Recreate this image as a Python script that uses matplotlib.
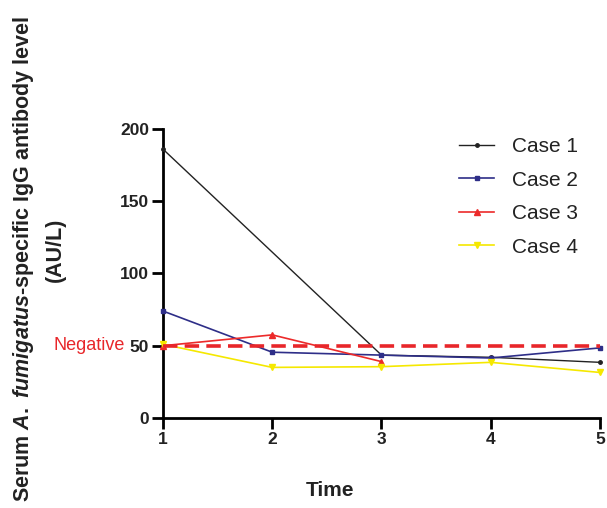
import matplotlib
matplotlib.use("Agg")
import matplotlib.pyplot as plt

plt.rcParams['font.family'] = ['Liberation Sans', 'DejaVu Sans']
plt.rcParams['mathtext.fontset'] = 'custom'
plt.rcParams['mathtext.rm'] = 'Liberation Sans:bold'
plt.rcParams['mathtext.it'] = 'Liberation Sans:bold:italic'

time = [1, 2, 3, 4, 5]
case1_time = [1, 3, 4, 5]
case1 = [186, 43.5, 42, 38.5]
case2 = [74, 45.5, 43.5, 41.5, 48.5]
case3_time = [1, 2, 3]
case3 = [50, 57.5, 39]
case4 = [51, 35, 35.5, 38.5, 31.5]
negative = 50
yticks = [0, 50, 100, 150, 200]

fig = plt.figure(figsize=(6.07, 5.08), dpi=100)
ax = fig.add_axes([0.2685, 0.1772, 0.72, 0.569])

ax.plot(case1_time, case1, color='#222222', lw=1.0, marker='o', ms=2.5, label='Case 1', clip_on=False, zorder=3)
ax.plot(time, case2, color='#2e2e88', lw=1.2, marker='s', ms=3, label='Case 2', clip_on=False, zorder=3)
ax.plot(case3_time, case3, color='#ec2a2a', lw=1.2, marker='^', ms=5, label='Case 3', clip_on=False, zorder=3)
ax.plot(time, case4, color='#f5e800', lw=1.2, marker='v', ms=5, label='Case 4', clip_on=False, zorder=3)
ax.plot([time[0], time[-1]], [negative, negative], color='#e8262a', lw=2.6,
        dashes=(4, 2), zorder=4, clip_on=False)

ax.set_xlim(1, 5)
ax.set_ylim(0, 200)
ax.set_xticks(time)
ax.set_yticks(yticks)
for s in ['top', 'right']:
    ax.spines[s].set_visible(False)
for s in ['left', 'bottom']:
    ax.spines[s].set_linewidth(2)
ax.tick_params(width=2, length=8, labelsize=12.5, pad=2)
for lab in ax.get_xticklabels() + ax.get_yticklabels():
    lab.set_fontweight('bold')
    lab.set_color('#222222')

fig.text(330 / 607, 1 - 490 / 508, 'Time', ha='center', va='center',
         fontsize=15, fontweight='bold', color='#222222')

fig.text(24 / 607, 1 - 259 / 508, r'Serum $A.\ fumigatus$-specific IgG antibody level',
         rotation=90, ha='center', va='center', fontsize=15.5, fontweight='bold', color='#222222')
fig.text(55 / 607, 1 - 250 / 508, '(AU/L)', rotation=90, ha='center', va='center',
         fontsize=15.5, fontweight='bold', color='#222222')

ax.text(-0.087, negative, 'Negative', transform=ax.get_yaxis_transform(),
        ha='right', va='center', color='#e8262a', fontsize=13)

leg = ax.legend(loc='upper left', bbox_to_anchor=(0.677, 0.972), frameon=False,
                fontsize=15, handlelength=1.7, labelspacing=0.7, handletextpad=0.85,
                borderpad=0, borderaxespad=0)
for t in leg.get_texts():
    t.set_color('#222222')

fig.savefig('out.png', dpi=100)
